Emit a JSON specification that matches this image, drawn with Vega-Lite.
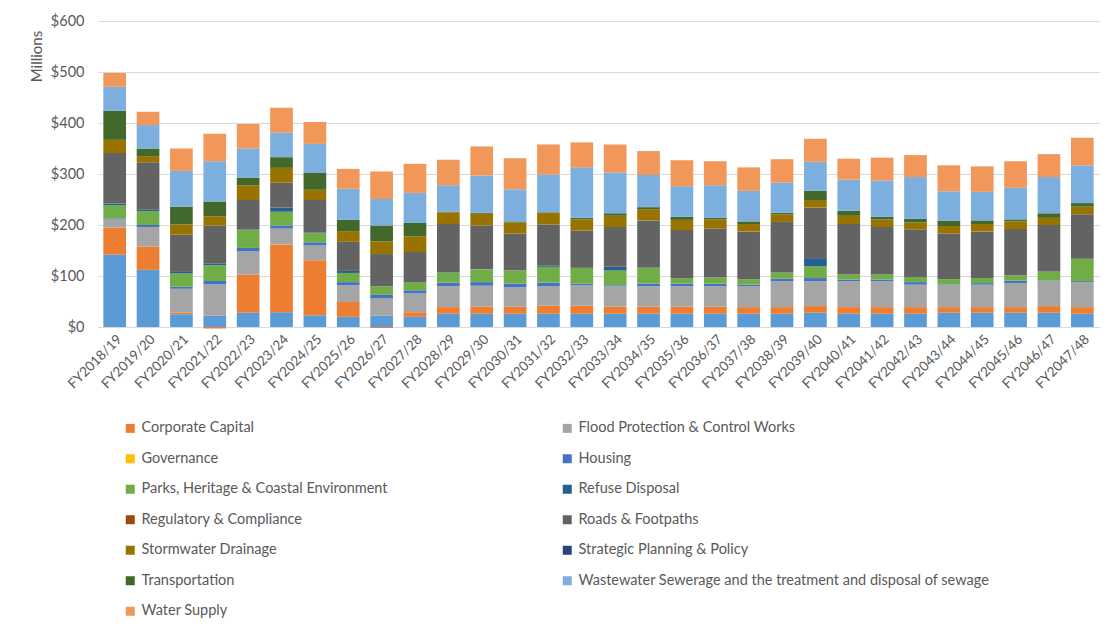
{
  "$schema": "https://vega.github.io/schema/vega-lite/v6.json",
  "width": 1001,
  "height": 306,
  "autosize": {"type": "none"},
  "padding": {"left": 98, "top": 21, "right": 21, "bottom": 308},
  "background": "white",
  "datasets": {
    "series": [
      {"key": "base", "name": "Community Facilities", "k": 0},
      {"key": "corp", "name": "Corporate Capital", "k": 1},
      {"key": "flood", "name": "Flood Protection & Control Works", "k": 2},
      {"key": "housing", "name": "Housing", "k": 4},
      {"key": "parks", "name": "Parks, Heritage & Coastal Environment", "k": 5},
      {"key": "refuse", "name": "Refuse Disposal", "k": 6},
      {"key": "roads", "name": "Roads & Footpaths", "k": 8},
      {"key": "storm", "name": "Stormwater Drainage", "k": 9},
      {"key": "transport", "name": "Transportation", "k": 11},
      {"key": "waste", "name": "Wastewater Sewerage and the treatment and disposal of sewage", "k": 12},
      {"key": "water", "name": "Water Supply", "k": 13}
    ],
    "budget": [
      {"year": "FY2018/19", "base": 142, "corp": 53, "flood": 16, "housing": 2, "parks": 26, "refuse": 3, "roads": 99, "storm": 26, "transport": 57, "waste": 47, "water": 27},
      {"year": "FY2019/20", "base": 112, "corp": 46, "flood": 38, "housing": 4, "parks": 27, "refuse": 3, "roads": 93, "storm": 12, "transport": 15, "waste": 46, "water": 26},
      {"year": "FY2020/21", "base": 25, "corp": 3, "flood": 47, "housing": 4, "parks": 26, "refuse": 3, "roads": 73, "storm": 20, "transport": 35, "waste": 70, "water": 44},
      {"year": "FY2021/22", "base": 22, "corp": -3, "flood": 62, "housing": 6, "parks": 31, "refuse": 3, "roads": 75, "storm": 18, "transport": 29, "waste": 79, "water": 54},
      {"year": "FY2022/23", "base": 28, "corp": 75, "flood": 46, "housing": 6, "parks": 36, "refuse": 1, "roads": 57, "storm": 29, "transport": 15, "waste": 57, "water": 48},
      {"year": "FY2023/24", "base": 29, "corp": 133, "flood": 31, "housing": 6, "parks": 27, "refuse": 8, "roads": 49, "storm": 29, "transport": 21, "waste": 48, "water": 49},
      {"year": "FY2024/25", "base": 23, "corp": 108, "flood": 29, "housing": 6, "parks": 18, "refuse": 1, "roads": 64, "storm": 20, "transport": 33, "waste": 57, "water": 43},
      {"year": "FY2025/26", "base": 20, "corp": 29, "flood": 33, "housing": 6, "parks": 18, "refuse": 4, "roads": 57, "storm": 21, "transport": 22, "waste": 61, "water": 39},
      {"year": "FY2026/27", "base": 22, "corp": -2, "flood": 34, "housing": 7, "parks": 17, "refuse": 0, "roads": 63, "storm": 25, "transport": 31, "waste": 52, "water": 54},
      {"year": "FY2027/28", "base": 20, "corp": 9, "flood": 37, "housing": 6, "parks": 16, "refuse": 0, "roads": 59, "storm": 31, "transport": 26, "waste": 59, "water": 57},
      {"year": "FY2028/29", "base": 26, "corp": 13, "flood": 41, "housing": 7, "parks": 20, "refuse": 1, "roads": 94, "storm": 23, "transport": 1, "waste": 52, "water": 50},
      {"year": "FY2029/30", "base": 26, "corp": 14, "flood": 41, "housing": 7, "parks": 25, "refuse": 0, "roads": 86, "storm": 23, "transport": 2, "waste": 73, "water": 57},
      {"year": "FY2030/31", "base": 26, "corp": 14, "flood": 38, "housing": 7, "parks": 26, "refuse": 0, "roads": 72, "storm": 22, "transport": 2, "waste": 63, "water": 61},
      {"year": "FY2031/32", "base": 26, "corp": 16, "flood": 38, "housing": 7, "parks": 31, "refuse": 2, "roads": 81, "storm": 23, "transport": 1, "waste": 74, "water": 59},
      {"year": "FY2032/33", "base": 26, "corp": 16, "flood": 40, "housing": 3, "parks": 31, "refuse": 0, "roads": 73, "storm": 22, "transport": 3, "waste": 99, "water": 49},
      {"year": "FY2033/34", "base": 26, "corp": 14, "flood": 40, "housing": 2, "parks": 29, "refuse": 7, "roads": 78, "storm": 22, "transport": 5, "waste": 80, "water": 55},
      {"year": "FY2034/35", "base": 26, "corp": 14, "flood": 40, "housing": 5, "parks": 31, "refuse": 0, "roads": 93, "storm": 22, "transport": 4, "waste": 63, "water": 47},
      {"year": "FY2035/36", "base": 26, "corp": 14, "flood": 40, "housing": 5, "parks": 10, "refuse": 0, "roads": 95, "storm": 20, "transport": 6, "waste": 60, "water": 51},
      {"year": "FY2036/37", "base": 26, "corp": 14, "flood": 40, "housing": 5, "parks": 12, "refuse": 0, "roads": 96, "storm": 18, "transport": 3, "waste": 64, "water": 47},
      {"year": "FY2037/38", "base": 26, "corp": 13, "flood": 41, "housing": 3, "parks": 11, "refuse": 0, "roads": 93, "storm": 15, "transport": 5, "waste": 60, "water": 46},
      {"year": "FY2038/39", "base": 26, "corp": 13, "flood": 51, "housing": 5, "parks": 12, "refuse": 0, "roads": 99, "storm": 15, "transport": 3, "waste": 59, "water": 46},
      {"year": "FY2039/40", "base": 28, "corp": 13, "flood": 49, "housing": 6, "parks": 23, "refuse": 16, "roads": 99, "storm": 15, "transport": 18, "waste": 57, "water": 45},
      {"year": "FY2040/41", "base": 26, "corp": 13, "flood": 51, "housing": 3, "parks": 10, "refuse": 0, "roads": 99, "storm": 16, "transport": 10, "waste": 61, "water": 41},
      {"year": "FY2041/42", "base": 26, "corp": 13, "flood": 51, "housing": 3, "parks": 10, "refuse": 0, "roads": 93, "storm": 15, "transport": 5, "waste": 71, "water": 45},
      {"year": "FY2042/43", "base": 26, "corp": 13, "flood": 44, "housing": 5, "parks": 10, "refuse": 0, "roads": 93, "storm": 14, "transport": 7, "waste": 82, "water": 43},
      {"year": "FY2043/44", "base": 28, "corp": 11, "flood": 44, "housing": 1, "parks": 10, "refuse": 0, "roads": 89, "storm": 15, "transport": 10, "waste": 58, "water": 51},
      {"year": "FY2044/45", "base": 28, "corp": 11, "flood": 44, "housing": 3, "parks": 10, "refuse": 0, "roads": 91, "storm": 15, "transport": 7, "waste": 56, "water": 50},
      {"year": "FY2045/46", "base": 28, "corp": 11, "flood": 47, "housing": 5, "parks": 10, "refuse": 0, "roads": 91, "storm": 15, "transport": 4, "waste": 62, "water": 52},
      {"year": "FY2046/47", "base": 28, "corp": 13, "flood": 49, "housing": 1, "parks": 18, "refuse": 0, "roads": 91, "storm": 14, "transport": 9, "waste": 71, "water": 45},
      {"year": "FY2047/48", "base": 26, "corp": 13, "flood": 49, "housing": 2, "parks": 44, "refuse": 0, "roads": 87, "storm": 15, "transport": 7, "waste": 74, "water": 54}
    ]
  },
  "data": {"name": "budget"},
  "transform": [
    {"fold": ["base", "corp", "flood", "housing", "parks", "refuse", "roads", "storm", "transport", "waste", "water"], "as": ["key", "value"]},
    {"lookup": "key", "from": {"data": {"name": "series"}, "key": "key", "fields": ["name", "k"]}}
  ],
  "mark": {"type": "bar"},
  "encoding": {
    "x": {
      "field": "year",
      "type": "nominal",
      "sort": null,
      "scale": {"paddingInner": 0.32, "paddingOuter": 0.16},
      "axis": {
        "title": null,
        "labelAngle": -45,
        "labelFont": "Lato",
        "labelFontSize": 13.5,
        "labelColor": "#595959",
        "labelPadding": 5,
        "ticks": false,
        "domain": true,
        "domainColor": "#D9D9D9",
        "labelOverlap": false
      }
    },
    "y": {
      "field": "value",
      "type": "quantitative",
      "stack": "zero",
      "scale": {"domain": [0, 600], "nice": false},
      "axis": {
        "values": [0, 100, 200, 300, 400, 500, 600],
        "labelExpr": "'$' + datum.value",
        "labelFont": "Lato",
        "labelFontSize": 14.5,
        "labelColor": "#595959",
        "labelPadding": 14,
        "ticks": false,
        "domain": false,
        "gridColor": "#D9D9D9",
        "title": "Millions",
        "titleFont": "Lato",
        "titleFontSize": 15,
        "titleFontWeight": "normal",
        "titleColor": "#595959",
        "titleAngle": -90,
        "titleX": -62,
        "titleY": 35,
        "titleAlign": "center",
        "titleBaseline": "middle"
      }
    },
    "color": {
      "field": "name",
      "type": "nominal",
      "scale": {
        "domain": ["Community Facilities", "Corporate Capital", "Flood Protection & Control Works", "Governance", "Housing", "Parks, Heritage & Coastal Environment", "Refuse Disposal", "Regulatory & Compliance", "Roads & Footpaths", "Stormwater Drainage", "Strategic Planning & Policy", "Transportation", "Wastewater Sewerage and the treatment and disposal of sewage", "Water Supply"],
        "range": ["#5B9BD5", "#ED7D31", "#A5A5A5", "#FFC000", "#4472C4", "#70AD47", "#255E91", "#9E480E", "#636363", "#997300", "#264478", "#43682B", "#7CAFDD", "#F1975A"]
      },
      "legend": {
        "values": ["Corporate Capital", "Flood Protection & Control Works", "Governance", "Housing", "Parks, Heritage & Coastal Environment", "Refuse Disposal", "Regulatory & Compliance", "Roads & Footpaths", "Stormwater Drainage", "Strategic Planning & Policy", "Transportation", "Wastewater Sewerage and the treatment and disposal of sewage", "Water Supply"],
        "title": null,
        "orient": "none",
        "legendX": 25,
        "legendY": 400,
        "columns": 2,
        "direction": "horizontal",
        "symbolType": "square",
        "symbolSize": 81,
        "symbolStrokeWidth": 0,
        "labelFont": "Lato",
        "labelFontSize": 14.5,
        "labelColor": "#595959",
        "labelOffset": 4,
        "labelLimit": 600,
        "rowPadding": 15.5,
        "columnPadding": 172,
        "padding": 0
      }
    },
    "order": {"field": "k", "type": "quantitative"}
  },
  "config": {"view": {"stroke": null}}
}
